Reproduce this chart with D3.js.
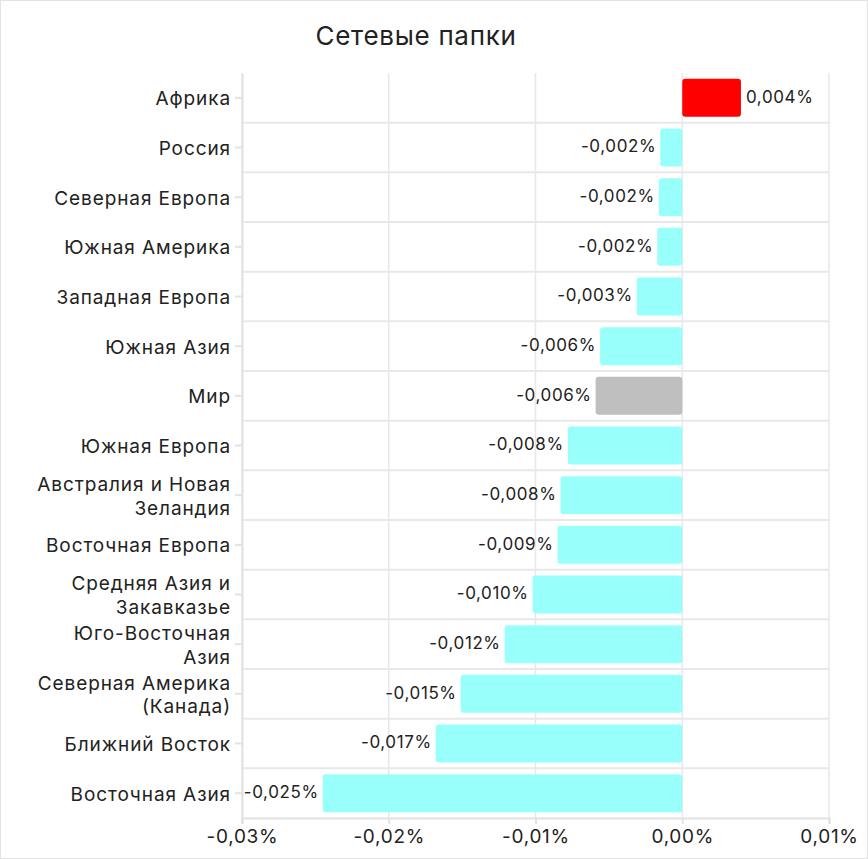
<!DOCTYPE html>
<html><head><meta charset="utf-8">
<script src="https://cdn.jsdelivr.net/npm/d3@7"></script>
<style>
html,body{margin:0;padding:0;background:#fff;}
svg{display:block;font-family:Inter,"Noto Sans",sans-serif;}
</style></head>
<body><svg id="chart" width="868" height="859"></svg>
<script>
const title = "Сетевые папки";
const categories = [
  ["Африка"],
  ["Россия"],
  ["Северная Европа"],
  ["Южная Америка"],
  ["Западная Европа"],
  ["Южная Азия"],
  ["Мир"],
  ["Южная Европа"],
  ["Австралия и Новая", "Зеландия"],
  ["Восточная Европа"],
  ["Средняя Азия и", "Закавказье"],
  ["Юго-Восточная", "Азия"],
  ["Северная Америка", "(Канада)"],
  ["Ближний Восток"],
  ["Восточная Азия"]
];
const values = [0.0040, -0.0015, -0.0016, -0.0017, -0.0031, -0.0056, -0.0059, -0.0078, -0.0083, -0.0085, -0.0102, -0.0121, -0.0151, -0.0168, -0.0245];
const valueLabels = ["0,004%", "-0,002%", "-0,002%", "-0,002%", "-0,003%", "-0,006%", "-0,006%", "-0,008%", "-0,008%", "-0,009%", "-0,010%", "-0,012%", "-0,015%", "-0,017%", "-0,025%"];
const xTicks = [-0.03, -0.02, -0.01, 0, 0.01];
const xTickLabels = ["-0,03%", "-0,02%", "-0,01%", "0,00%", "0,01%"];

const svg = d3.select("#chart");
const W = 868, H = 859;
const m = {top: 73, right: 39, bottom: 41, left: 242};

svg.append("rect").attr("x",0.5).attr("y",0.5).attr("width",W-1).attr("height",H-1)
  .attr("fill","#fff").attr("stroke","#e3e3e3");

const x = d3.scaleLinear().domain([-0.03, 0.01]).range([m.left, W - m.right]);
const ids = categories.map((d,i)=>i);

// title
svg.append("text").attr("x", 416).attr("y", 45).attr("text-anchor","middle")
  .attr("font-size", 26).attr("letter-spacing", 0.7).attr("fill","#222").text(title);

// vertical grid
svg.append("g").selectAll("line").data(xTicks).join("line")
  .attr("x1", d=>x(d)).attr("x2", d=>x(d))
  .attr("y1", m.top).attr("y2", H - m.bottom)
  .attr("stroke", "#e8e8e8").attr("stroke-width", 1.5);

// horizontal row separators
const bounds = d3.range(1, categories.length).map(i => m.top + (H - m.bottom - m.top) * i / categories.length);
svg.append("g").selectAll("line").data(bounds).join("line")
  .attr("x1", m.left).attr("x2", W - m.right)
  .attr("y1", d=>d).attr("y2", d=>d)
  .attr("stroke", "#e8e8e8").attr("stroke-width", 2);

// bottom axis
const xAxis = d3.axisBottom(x).tickValues(xTicks).tickFormat((d,i)=>xTickLabels[i]).tickSizeOuter(0).tickSize(6).tickPadding(6);
const gx = svg.append("g").attr("transform", `translate(0,${H - m.bottom})`).call(xAxis);
gx.select(".domain").attr("stroke","#e2e2e2").attr("stroke-width",2);
gx.selectAll(".tick line").attr("stroke","#e2e2e2").attr("stroke-width",2);
gx.selectAll(".tick text").attr("font-size", 19).attr("letter-spacing", 0.7).attr("fill","#222").attr("font-family","Inter,'Noto Sans',sans-serif");

// left axis
const rowCenter = i => m.top + (H - m.bottom - m.top) * (i + 0.5) / categories.length;
const yAxis = d3.axisLeft(d3.scaleLinear().domain([0,1]).range([m.top, H-m.bottom])).tickValues([]).tickSizeOuter(0);
const gy = svg.append("g").attr("transform", `translate(${m.left},0)`).call(yAxis);
gy.select(".domain").attr("stroke","#e2e2e2").attr("stroke-width",2);
svg.append("line").attr("x1", m.left).attr("x2", m.left).attr("y1", H - m.bottom).attr("y2", H - m.bottom + 6)
  .attr("stroke","#e2e2e2").attr("stroke-width",2);
svg.append("g").selectAll("line").data(ids).join("line")
  .attr("x1", m.left - 7).attr("x2", m.left)
  .attr("y1", i => rowCenter(i)).attr("y2", i => rowCenter(i))
  .attr("stroke","#e2e2e2").attr("stroke-width",2);

const labelG = svg.append("g").attr("font-size", 19).attr("letter-spacing", 0.9).attr("fill","#222").attr("text-anchor","end");
categories.forEach((lines, i) => {
  const cy = rowCenter(i);
  const lh = 23.5;
  const t = labelG.append("text").attr("x", m.left - 11);
  lines.forEach((ln, j) => {
    t.append("tspan").attr("x", m.left - 11)
      .attr("y", cy + 1 + (j - (lines.length - 1) / 2) * lh).attr("dy", "0.35em").text(ln);
  });
});

// bars
const barH = 38;
const colorOf = (d, i) => categories[i][0] === "Мир" ? "#bfbfbf" : (d > 0 ? "#ff0000" : "#99fffa");
svg.append("g").selectAll("rect").data(values).join("rect")
  .attr("x", d => x(Math.min(0, d)))
  .attr("width", d => Math.abs(x(d) - x(0)))
  .attr("y", (d,i) => rowCenter(i) - barH/2)
  .attr("height", barH)
  .attr("rx", 3).attr("ry", 3)
  .attr("fill", colorOf);

// value labels
svg.append("g").selectAll("text").data(values).join("text")
  .attr("x", d => d >= 0 ? x(d) + 5 : x(d) - 4)
  .attr("y", (d,i) => rowCenter(i) - 1)
  .attr("dy", "0.35em")
  .attr("text-anchor", d => d >= 0 ? "start" : "end")
  .attr("font-size", 17).attr("letter-spacing", 0.6).attr("fill", "#222")
  .text((d,i) => valueLabels[i]);
</script>
</body></html>
